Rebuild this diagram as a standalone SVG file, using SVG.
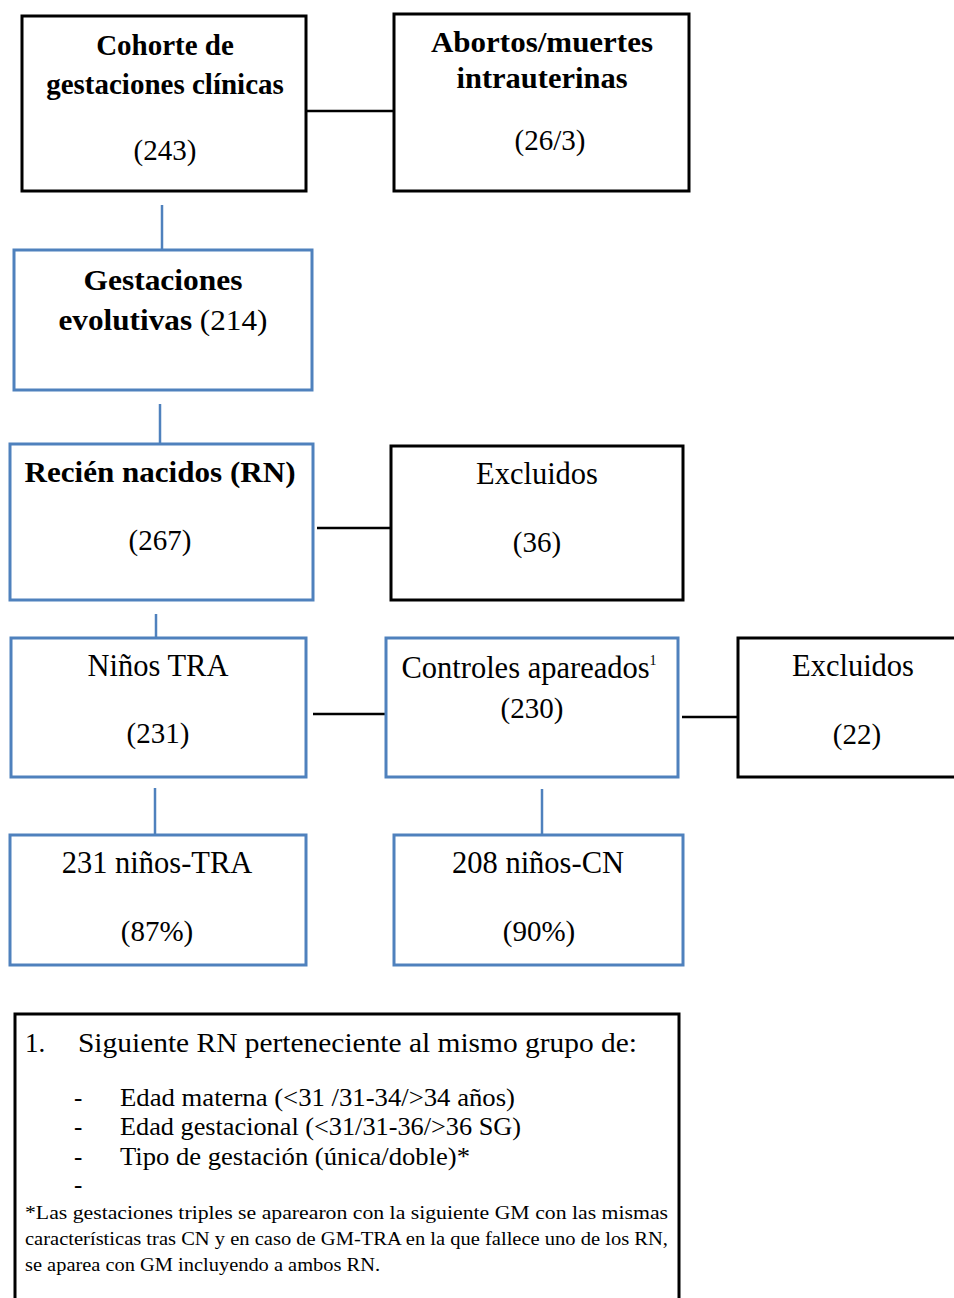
<svg xmlns="http://www.w3.org/2000/svg" width="954" height="1298" viewBox="0 0 954 1298">
<style>
.bk{fill:#fff;stroke:#000;stroke-width:3}
.bl{fill:#fff;stroke:#4F81BD;stroke-width:3}
.cb{stroke:#000;stroke-width:2.5;fill:none}
.cl{stroke:#4F81BD;stroke-width:2.5;fill:none}
text{font-family:"Liberation Serif","Times New Roman",serif;fill:#000}
.t{font-size:30.5px;text-anchor:middle}
.n{font-size:29px;text-anchor:middle}
.b{font-weight:bold;font-size:29px}
.f{font-size:27px}
.i{font-size:25px}
.s{font-size:19.5px}
</style>
<rect width="954" height="1298" fill="#fff"/>
<g id="connectors">
<line class="cb" x1="306" y1="111" x2="394" y2="111"/>
<line class="cl" x1="162" y1="205" x2="162" y2="250"/>
<line class="cl" x1="160" y1="404" x2="160" y2="444"/>
<line class="cb" x1="317" y1="528" x2="394" y2="528"/>
<line class="cl" x1="156" y1="614" x2="156" y2="648"/>
<line class="cb" x1="313" y1="714" x2="389" y2="714"/>
<line class="cb" x1="682" y1="717" x2="738" y2="717"/>
<line class="cl" x1="155" y1="788" x2="155" y2="845"/>
<line class="cl" x1="542" y1="789" x2="542" y2="835"/>
</g>
<g id="n-cohorte">
<rect class="bk" x="22" y="16" width="284" height="175"/>
<text class="t b" x="165" y="55">Cohorte de</text>
<text class="t b" x="165" y="94">gestaciones clínicas</text>
<text class="n" x="165" y="160">(243)</text>
</g>
<g id="n-abortos">
<rect class="bk" x="394" y="14" width="295" height="177"/>
<text class="t b" x="542" y="52" textLength="222" lengthAdjust="spacingAndGlyphs">Abortos/muertes</text>
<text class="t b" x="542" y="88" textLength="171" lengthAdjust="spacingAndGlyphs">intrauterinas</text>
<text class="n" x="550" y="150">(26/3)</text>
</g>
<g id="n-gestaciones">
<rect class="bl" x="14" y="250" width="298" height="140"/>
<text class="t b" x="163" y="290" textLength="159" lengthAdjust="spacingAndGlyphs">Gestaciones</text>
<text class="n" x="163" y="330" textLength="209" lengthAdjust="spacingAndGlyphs"><tspan font-weight="bold">evolutivas</tspan> (214)</text>
</g>
<g id="n-rn">
<rect class="bl" x="10" y="444" width="303" height="156"/>
<text class="t b" x="160" y="482" textLength="271" lengthAdjust="spacingAndGlyphs">Recién nacidos (RN)</text>
<text class="n" x="160" y="550">(267)</text>
</g>
<g id="n-excl1">
<rect class="bk" x="391" y="446" width="292" height="154"/>
<text class="t" x="537" y="484">Excluidos</text>
<text class="n" x="537" y="552">(36)</text>
</g>
<g id="n-tra">
<rect class="bl" x="11" y="638" width="295" height="139"/>
<text class="t" x="158" y="676">Niños TRA</text>
<text class="n" x="158" y="743">(231)</text>
</g>
<g id="n-controles">
<rect class="bl" x="386" y="638" width="292" height="139"/>
<text class="t" x="529" y="678">Controles apareados<tspan font-size="14" dy="-13">1</tspan></text>
<text class="n" x="532" y="718">(230)</text>
</g>
<g id="n-excl2">
<rect class="bk" x="738" y="638" width="240" height="139"/>
<text class="t" x="853" y="676">Excluidos</text>
<text class="n" x="857" y="744">(22)</text>
</g>
<g id="n-231">
<rect class="bl" x="10" y="835" width="296" height="130"/>
<text class="t" x="157" y="873">231 niños-TRA</text>
<text class="n" x="157" y="941">(87%)</text>
</g>
<g id="n-208">
<rect class="bl" x="394" y="835" width="289" height="130"/>
<text class="t" x="538" y="873">208 niños-CN</text>
<text class="n" x="539" y="941">(90%)</text>
</g>
<g id="footnote">
<rect class="bk" x="15" y="1014" width="664" height="300"/>
<text class="f" x="25" y="1052">1.</text>
<text class="f" x="78" y="1052" textLength="559" lengthAdjust="spacingAndGlyphs">Siguiente RN perteneciente al mismo grupo de:</text>
<text class="i" x="74" y="1106">-</text>
<text class="i" x="120" y="1106" textLength="395" lengthAdjust="spacingAndGlyphs">Edad materna (&lt;31 /31-34/&gt;34 años)</text>
<text class="i" x="74" y="1135">-</text>
<text class="i" x="120" y="1135" textLength="401" lengthAdjust="spacingAndGlyphs">Edad gestacional (&lt;31/31-36/&gt;36 SG)</text>
<text class="i" x="74" y="1165">-</text>
<text class="i" x="120" y="1165" textLength="350" lengthAdjust="spacingAndGlyphs">Tipo de gestación (única/doble)*</text>
<text class="i" x="74" y="1193">-</text>
<text class="s" x="25" y="1219" textLength="643" lengthAdjust="spacingAndGlyphs">*Las gestaciones triples se aparearon con la siguiente GM con las mismas</text>
<text class="s" x="25" y="1245" textLength="643" lengthAdjust="spacingAndGlyphs">características tras CN y en caso de GM-TRA en la que fallece uno de los RN,</text>
<text class="s" x="25" y="1271" textLength="355" lengthAdjust="spacingAndGlyphs">se aparea con GM incluyendo a ambos RN.</text>
</g>
</svg>
